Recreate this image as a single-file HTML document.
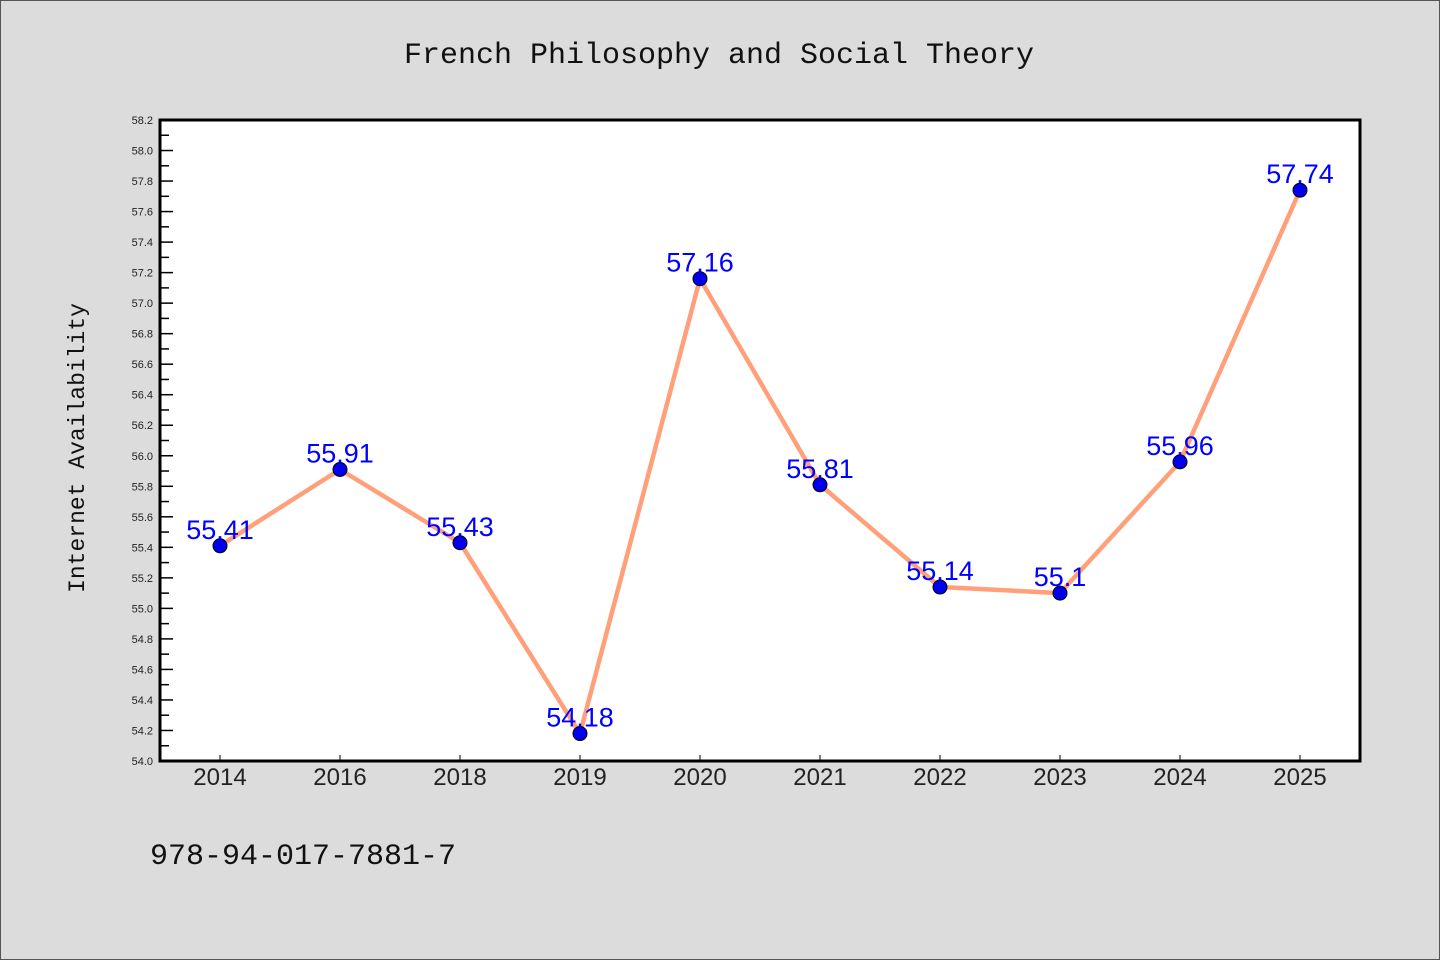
<!DOCTYPE html>
<html><head><meta charset="utf-8"><style>
html,body{margin:0;padding:0;background:#dcdcdc;}
svg{display:block;}
</style></head><body>
<svg width="1440" height="960" xmlns="http://www.w3.org/2000/svg">
<rect x="0.5" y="0.5" width="1439" height="959" fill="#dcdcdc" stroke="#555"/>
<text x="719" y="63" text-anchor="middle" font-family="Liberation Mono, monospace" font-size="30" fill="#111">French Philosophy and Social Theory</text>
<rect x="160" y="120" width="1200" height="641" fill="#fff" stroke="#000" stroke-width="3"/>
<text transform="translate(84,448) rotate(-90)" text-anchor="middle" font-family="Liberation Mono, monospace" font-size="23" fill="#111">Internet Availability</text>
<text x="150" y="864" font-family="Liberation Mono, monospace" font-size="30" fill="#111">978-94-017-7881-7</text>
<g id="axes"></g>
<g id="marks"></g>
</svg>
<script>
const categories=["2014","2016","2018","2019","2020","2021","2022","2023","2024","2025"];
const values=[55.41,55.91,55.43,54.18,57.16,55.81,55.14,55.1,55.96,57.74];
const valueLabels=["55.41","55.91","55.43","54.18","57.16","55.81","55.14","55.1","55.96","57.74"];
const yMin=54.0,yMax=58.2;
const NS="http://www.w3.org/2000/svg";
const L=160,R=1360,T=120,B=761;
function x(i){return 220+i*120;}
function y(v){return B-(v-yMin)/(yMax-yMin)*(B-T);}
function mk(tag,attrs,parent){const e=document.createElementNS(NS,tag);for(const k in attrs)e.setAttribute(k,attrs[k]);parent.appendChild(e);return e;}
const axes=document.getElementById('axes'),marks=document.getElementById('marks');
for(let k=0;k<=42;k++){
 const v=yMin+k*0.1,yy=y(v),major=k%2===0;
 const t=mk('line',{x1:L,x2:L+(major?13:9),y1:yy,y2:yy,stroke:'#000','stroke-width':1.5},axes);
 
 
 if(major){
  const lb=mk('text',{x:153,y:yy+4,'text-anchor':'end','font-family':'Liberation Sans, sans-serif','font-size':11,fill:'#222'},axes);
  lb.textContent=v.toFixed(1);
  
  
 }
}
categories.forEach((c,i)=>{
 const t=mk('line',{x1:x(i),x2:x(i),y1:B,y2:B-6,stroke:'#000','stroke-width':1},axes);
 
 
 const lb=mk('text',{x:x(i),y:785,'text-anchor':'middle','font-family':'Liberation Sans, sans-serif','font-size':24,fill:'#222'},axes);
 lb.textContent=c;
 
 
});
const pts=values.map((v,i)=>x(i)+','+y(v)).join(' ');
const line=mk('polyline',{points:pts,fill:'none',stroke:'#ffa07a','stroke-width':4.5,'stroke-linejoin':'round'},marks);


values.forEach((v,i)=>{
 const c=mk('circle',{cx:x(i),cy:y(v),r:7,fill:'#0000ee',stroke:'#000','stroke-width':1},marks);
 
 
});
values.forEach((v,i)=>{
 const t=mk('text',{x:x(i),y:y(v)-7,'text-anchor':'middle','font-family':'Liberation Sans, sans-serif','font-size':27,fill:'#0000ff'},marks);
 t.textContent=valueLabels[i];
 
 
});
</script>
</body></html>
